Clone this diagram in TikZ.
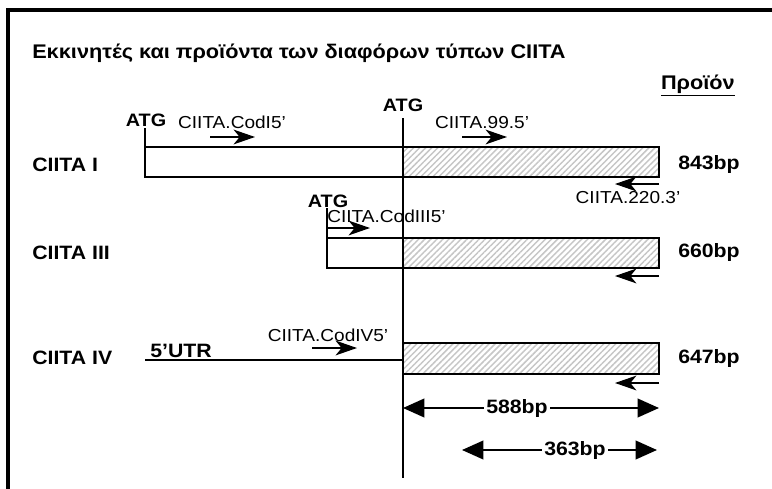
\documentclass[tikz,border=0pt]{standalone}
\usepackage{fontspec}
\setmainfont{Liberation Sans}[FakeStretch=1.1]
\usetikzlibrary{arrows.meta,patterns.meta}
\begin{document}
\begin{tikzpicture}[x=0.75pt,y=-0.75pt,
  bold/.style={font=\bfseries\fontsize{14.5}{16}\selectfont},
  atg/.style={font=\bfseries\fontsize{13.5}{15}\selectfont},
  titlef/.style={font=\bfseries\fontsize{14.8}{17}\selectfont},
  prim/.style={font=\fontsize{13}{15}\selectfont},
  seg/.style={line width=2pt},
  hatch/.style={pattern={Lines[angle=45,distance=3.2pt,line width=1.1pt]},pattern color=gray!45},
  primer/.style={line width=1.7pt,-{Stealth[length=16pt,width=11pt,inset=4.5pt]}},
  dim/.style={line width=1.3pt,{Triangle[length=16pt,width=14pt]}-{Triangle[length=16pt,width=14pt]}},
  lbl/.style={fill=white,inner sep=2pt}]
\useasboundingbox (0,0) rectangle (772,489);
\draw[line width=2.3pt] (8,489) -- (8,10) -- (772,10);
% title
\node[titlef,anchor=base west,inner sep=0] (title) at (32,58) {Εκκινητές και προϊόντα των διαφόρων τύπων CIITA};
\node[titlef,anchor=base east,inner sep=0] (prod) at (735,89) {\underline{Προϊόν}};
% vertical ATG line
\coordinate (vtop) at (403,118);
\coordinate (vbot) at (403,478);
\node[atg,anchor=base,inner sep=0] (atgm) at (403,111) {ATG};
% CIITA I
\node[bold,anchor=west,inner sep=0] (l1) at (32,165) {CIITA I};
\coordinate (a1) at (145,147); \coordinate (m1) at (403,147);
\coordinate (b1) at (659,177);
\fill[hatch] (m1) rectangle (b1);
\draw[seg] (a1) rectangle (b1);
\coordinate (t1) at (145,128);
\draw[line width=1pt] (t1) -- (a1);
\node[atg,anchor=base,inner sep=0] (atg1) at (146,126) {ATG};
\node[prim,anchor=base,inner sep=0] (p1) at (232,128) {CIITA.CodI5’};
\coordinate (p1s) at (210,137); \coordinate (p1e) at (255,137);
\draw[primer] (p1s) -- (p1e);
\node[prim,anchor=base,inner sep=0] (p2) at (482,128) {CIITA.99.5’};
\coordinate (p2s) at (462,137); \coordinate (p2e) at (507,137);
\draw[primer] (p2s) -- (p2e);
\node[bold,anchor=west,inner sep=0] (s1) at (678,165) {843bp};
\coordinate (r1s) at (659,184); \coordinate (r1e) at (615,184);
\draw[primer] (r1s) -- (r1e);
\node[prim,anchor=base,inner sep=0] (p3) at (628,203) {CIITA.220.3’};
% CIITA III
\node[bold,anchor=west,inner sep=0] (l3) at (32,253) {CIITA III};
\coordinate (a3) at (327,238); \coordinate (m3) at (403,238);
\coordinate (b3) at (659,268);
\fill[hatch] (m3) rectangle (b3);
\draw[seg] (a3) rectangle (b3);
\coordinate (t3) at (327,208);
\draw[line width=1pt] (t3) -- (a3);
\node[atg,anchor=base,inner sep=0] (atg3) at (328,207) {ATG};
\node[prim,anchor=base west,inner sep=0] (p4) at (327,222) {CIITA.CodIII5’};
\coordinate (p4s) at (327,228); \coordinate (p4e) at (370,228);
\draw[primer] (p4s) -- (p4e);
\node[bold,anchor=west,inner sep=0] (s3) at (678,253) {660bp};
\coordinate (r3s) at (659,276); \coordinate (r3e) at (615,276);
\draw[primer] (r3s) -- (r3e);
% CIITA IV
\node[bold,anchor=west,inner sep=0] (l4) at (32,358) {CIITA IV};
\coordinate (u4) at (145,360); \coordinate (v4) at (403,360);
\draw[line width=1.3pt] (u4) -- (v4);
\node[bold,anchor=base west,inner sep=0] (utr) at (150,357) {5’UTR};
\coordinate (m4) at (403,343); \coordinate (b4) at (659,374);
\fill[hatch] (m4) rectangle (b4);
\draw[seg] (m4) rectangle (b4);
\node[prim,anchor=base,inner sep=0] (p5) at (328,341) {CIITA.CodIV5’};
\coordinate (p5s) at (312,348); \coordinate (p5e) at (357,348);
\draw[primer] (p5s) -- (p5e);
\node[bold,anchor=west,inner sep=0] (s4) at (678,358) {647bp};
\coordinate (r4s) at (659,383); \coordinate (r4e) at (615,383);
\draw[primer] (r4s) -- (r4e);
% vertical line
\draw[line width=1.1pt] (vtop) -- (vbot);
% dimensions
\coordinate (d1s) at (403,408); \coordinate (d1e) at (659,408);
\draw[dim] (d1s) -- (d1e);
\node[bold,lbl] (d1) at (517,408) {588bp};
\coordinate (d2s) at (462,450); \coordinate (d2e) at (657,450);
\draw[dim] (d2s) -- (d2e);
\node[bold,lbl] (d2) at (575,450) {363bp};
\end{tikzpicture}
\end{document}
